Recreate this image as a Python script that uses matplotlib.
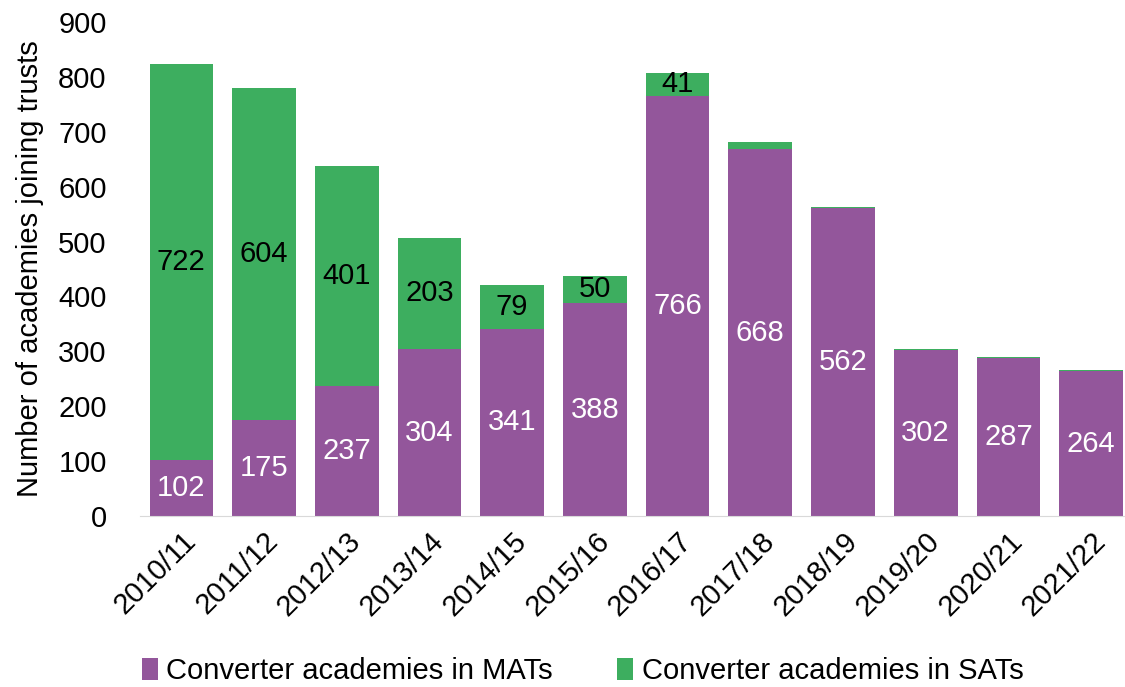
import numpy as np
import matplotlib.pyplot as plt

plt.rcParams['font.family'] = ['Liberation Sans', 'DejaVu Sans']

years = ['2010/11', '2011/12', '2012/13', '2013/14', '2014/15', '2015/16',
         '2016/17', '2017/18', '2018/19', '2019/20', '2020/21', '2021/22']
mats = [102, 175, 237, 304, 341, 388, 766, 668, 562, 302, 287, 264]
sats = [722, 604, 401, 203, 79, 50, 41, 13, 1, 2, 2, 2]

purple = '#93569B'
green = '#3DAE5F'
fs = 21

fig = plt.figure(figsize=(11.25, 6.87), dpi=100)
ax = fig.add_axes([140/1125, 171/687, 1 - 140/1125, 494/687])

x = np.arange(len(years))
w = 0.77
b1 = ax.bar(x, mats, w, color=purple, label='Converter academies in MATs')
b2 = ax.bar(x, sats, w, bottom=mats, color=green, label='Converter academies in SATs')

for i in range(len(years)):
    ax.text(x[i], mats[i] / 2, str(mats[i]), ha='center', va='center',
            color='white', fontsize=fs)
    if sats[i] >= 30:
        ax.text(x[i], mats[i] + sats[i] / 2, str(sats[i]), ha='center',
                va='center', color='black', fontsize=fs)

ax.set_ylim(0, 900)
ax.set_xlim(-0.5, 11.41)
ax.set_yticks(np.arange(0, 901, 100))
ax.set_xticks(x)
ax.set_xticklabels(years, rotation=45, ha='right', rotation_mode='anchor')
ax.tick_params(axis='both', labelsize=fs, length=0)
ax.tick_params(axis='y', pad=24)
ax.tick_params(axis='x', pad=8)

for s in ['top', 'right', 'left']:
    ax.spines[s].set_visible(False)
ax.spines['bottom'].set_color('#d9d9d9')

ax.set_ylabel('Number of academies joining trusts', fontsize=fs, labelpad=10)

fig.legend(handles=[b1, b2], loc='lower center', bbox_to_anchor=(0.518, -0.035),
           ncol=2, frameon=False, fontsize=fs, handlelength=0.55,
           handleheight=0.8, handletextpad=0.3, columnspacing=2.2)

fig.savefig('out.png', dpi=100)
